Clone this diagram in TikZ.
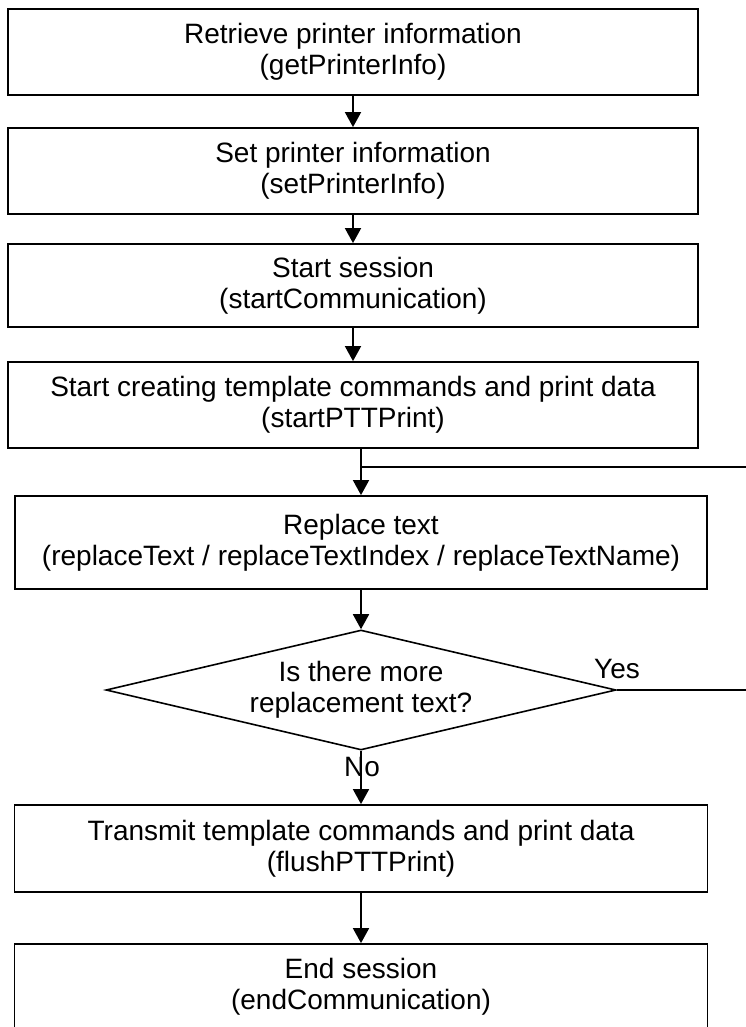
\documentclass[tikz,border=0pt]{standalone}
\usepackage{fontspec}
\setmainfont{Liberation Sans}
\usetikzlibrary{arrows.meta,shapes.geometric}

\tikzset{
  label font/.style={font=\fontsize{28}{31}\selectfont},
  stepbox/.style={draw, line width=1.8pt, rectangle, align=center,
    label font, inner sep=0pt},
  decision/.style={draw, line width=1.6pt, diamond, aspect=4.25,
    align=center, label font, inner sep=0pt},
  flow/.style={line width=1.8pt, -{Triangle[width=16pt,length=15pt]}},
  link/.style={line width=1.8pt},
  tag/.style={label font, inner sep=0pt},
}

\begin{document}
\begin{tikzpicture}[x=1pt, y=-1pt]
\useasboundingbox (0,0) rectangle (746,1027);

\node[stepbox, minimum width=690pt, minimum height=86pt] (b1) at (353,52)
  {Retrieve printer information\\(getPrinterInfo)};
\node[stepbox, minimum width=690pt, minimum height=86pt] (b2) at (353,171)
  {Set printer information\\(setPrinterInfo)};
\node[stepbox, minimum width=690pt, minimum height=83pt] (b3) at (353,285.5)
  {Start session\\(startCommunication)};
\node[stepbox, minimum width=690pt, minimum height=86pt] (b4) at (353,405)
  {Start creating template commands and print data\\(startPTTPrint)};
\node[stepbox, minimum width=692pt, minimum height=93pt] (b5) at (361,542.5)
  {Replace text\\(replaceText / replaceTextIndex / replaceTextName)};
\node[decision, minimum width=510pt, minimum height=120pt] (d) at (361,690)
  {Is there more\\replacement text?};
\node[stepbox, minimum width=693pt, minimum height=87pt] (b6) at (361,848.5)
  {Transmit template commands and print data\\(flushPTTPrint)};
\node[stepbox, minimum width=693pt, minimum height=86pt] (b7) at (361,987)
  {End session\\(endCommunication)};

\node[tag] (yes) at (617,669) {Yes};
\node[tag] (no) at (362,767) {No};

% return path of the loop, running past the right border
\coordinate (rt) at (760,690);
\coordinate (rb) at (760,467);
\coordinate (join) at (361,467);

\draw[flow] (b1) -- (b2);
\draw[flow] (b2) -- (b3);
\draw[flow] (b3) -- (b4);
\draw[flow] (b4.south -| b5.north) -- (b5.north);
\draw[flow] (b5) -- (d);
\draw[flow] (d) -- (b6);
\draw[flow] (b6) -- (b7);
\draw[link] (d.east) -- (rt) -- (rb) -- (join);
\end{tikzpicture}
\end{document}
